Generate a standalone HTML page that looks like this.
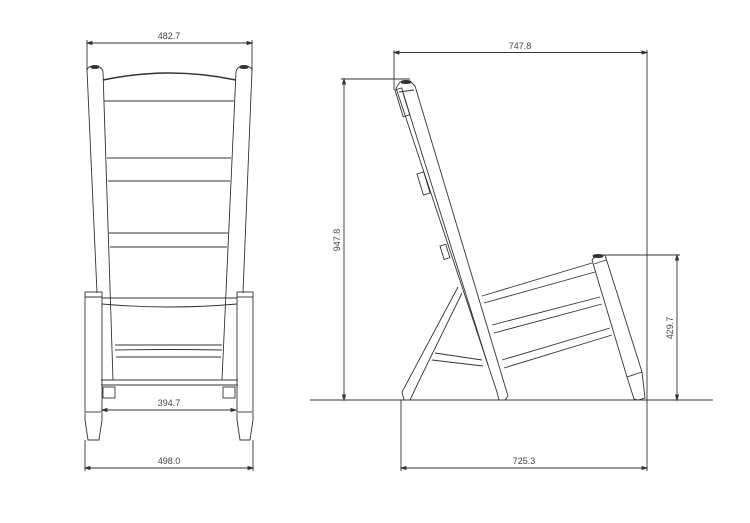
<!DOCTYPE html>
<html><head><meta charset="utf-8"><style>
html,body{margin:0;padding:0;background:#fff}
svg{display:block}
text{font-family:"Liberation Sans",sans-serif;font-size:9px;fill:#444}
</style></head><body>
<svg width="750" height="523" viewBox="0 0 750 523" xmlns="http://www.w3.org/2000/svg">
<g fill="none" stroke="#333" stroke-width="0.9">
<!-- FRONT VIEW -->
<!-- dims -->
<line x1="87" y1="43" x2="252" y2="43"/>
<line x1="87" y1="40" x2="87" y2="70"/><line x1="252" y1="40" x2="252" y2="70"/>
<path d="M87 43l5-1.5v3zM252 43l-5-1.5v3z" fill="#333"/>
<line x1="85" y1="468" x2="253" y2="468"/>
<line x1="85" y1="440" x2="85" y2="471"/><line x1="253" y1="440" x2="253" y2="471"/>
<path d="M85 468l5-1.5v3zM253 468l-5-1.5v3z" fill="#333"/>
<line x1="102" y1="410" x2="236" y2="410"/>
<path d="M102 410l5-1.5v3zM236 410l-5-1.5v3z" fill="#333"/>
<!-- back posts -->
<path d="M87 70 L97 293 M103 72 L113 380 M252 70 L243 293 M236 72 L222 380"/>
<path d="M87 70 Q88 66 94 66 Q102 66 103 72 M236 72 Q237 66 244 66 Q251 66 252 70"/>
<ellipse cx="95" cy="67" rx="4" ry="1.5" fill="#333"/>
<ellipse cx="244" cy="67" rx="4" ry="1.5" fill="#333"/>
<!-- top rail -->
<path d="M103 80 Q169 66 236 80" stroke-width="1.5"/>
<line x1="104" y1="101" x2="234" y2="101"/>
<line x1="107" y1="158" x2="231" y2="158"/><line x1="108" y1="181" x2="230" y2="181"/>
<line x1="109" y1="233" x2="228" y2="233"/><line x1="110" y1="247" x2="227" y2="247"/>
<!-- front posts -->
<rect x="85" y="292" width="17" height="120"/>
<rect x="237" y="292" width="16" height="120"/>
<line x1="85" y1="297" x2="102" y2="297"/><line x1="237" y1="297" x2="253" y2="297"/>
<line x1="102" y1="298" x2="237" y2="298"/>
<path d="M102 304 Q169 310 237 304"/>
<line x1="115" y1="345" x2="222" y2="345"/>
<path d="M115 350 Q169 349 222 350"/>
<line x1="116" y1="357" x2="221" y2="357"/>
<line x1="101" y1="380" x2="238" y2="380"/><line x1="101" y1="385" x2="238" y2="385"/>
<rect x="103" y="387" width="12" height="11"/>
<rect x="223" y="387" width="12" height="11"/>
<!-- feet -->
<path d="M85 413 L85 420 L88 440 L99 440 L102 420 L102 413"/>
<path d="M237 413 L237 420 L240 440 L250 440 L253 420 L253 413"/>
<!-- SIDE VIEW -->
<line x1="310" y1="400" x2="713" y2="400"/>
<line x1="394" y1="52.5" x2="647" y2="52.5"/>
<line x1="394" y1="50" x2="394" y2="90"/><line x1="647" y1="50" x2="647" y2="402"/>
<path d="M394 52.5l5-1.5v3zM647 52.5l-5-1.5v3z" fill="#333"/>
<line x1="344" y1="79" x2="344" y2="400"/>
<line x1="341" y1="79" x2="410" y2="79"/>
<path d="M344 79l-1.5 5h3zM344 400l-1.5-5h3z" fill="#333"/>
<line x1="677" y1="255" x2="677" y2="400"/>
<line x1="605" y1="255" x2="680" y2="255"/>
<path d="M677 255l-1.5 5h3zM677 400l-1.5-5h3z" fill="#333"/>
<line x1="401" y1="400" x2="401" y2="471"/>
<line x1="647" y1="400" x2="647" y2="471"/>
<line x1="401" y1="468" x2="647" y2="468"/>
<path d="M401 468l5-1.5v3zM647 468l-5-1.5v3z" fill="#333"/>
<!-- back leg -->
<path d="M396 88 L400 82 L410 81 L415 86 L508 396 L505 400 L499 400 L497 392 L396 88"/>
<path d="M399 92 L414 90"/>
<path d="M403 93 L488 365"/>
<ellipse cx="406" cy="82" rx="5" ry="1.5" fill="#333"/>
<rect x="0" y="0" width="7" height="28" transform="translate(395,90) rotate(-17)"/>
<rect x="0" y="0" width="7" height="22" transform="translate(417,174) rotate(-17)"/>
<rect x="0" y="0" width="6" height="14" transform="translate(440,246) rotate(-17)"/>
<!-- brace leg -->
<path d="M458 287 L402 392 L404 400 L410 400 L418 383 L462 293"/>
<path d="M435 353 L482 360 M432 360 L483 366"/>
<!-- front leg -->
<path d="M592 260 Q595 255 605 255 L642 372 L645 398 L638 400 L634 399 L627 377 Z"/>
<path d="M594 264 L606 260 M627 377 L642 372"/>
<ellipse cx="598" cy="256" rx="5" ry="1.5" fill="#333"/>
<!-- rungs -->
<path d="M482 296 L592 263 M484 303 L595 272"/>
<path d="M492 325 L600 297 M494 333 L602 304"/>
<path d="M502 360 L610 328 M504 368 L612 335"/>
</g>
<text x="169" y="39" text-anchor="middle">482.7</text>
<text x="169" y="406" text-anchor="middle">394.7</text>
<text x="169" y="464" text-anchor="middle">498.0</text>
<text x="520" y="49" text-anchor="middle">747.8</text>
<text x="524" y="464" text-anchor="middle">725.3</text>
<text transform="translate(340,240) rotate(-90)" text-anchor="middle">947.8</text>
<text transform="translate(673,328) rotate(-90)" text-anchor="middle">429.7</text>
</svg>
</body></html>
